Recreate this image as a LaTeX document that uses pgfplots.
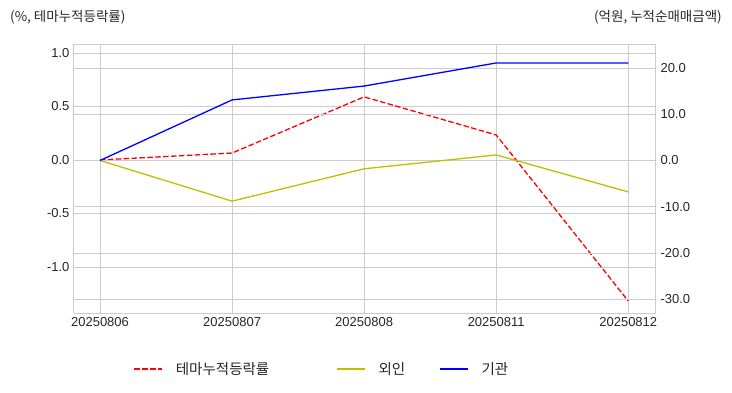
\documentclass[border=0pt]{standalone}
\usepackage{pgfplots}
\pgfplotsset{compat=1.18}
\usepackage{fontspec}
\setmainfont{Liberation Sans}
\newfontfamily\kr{Noto Sans CJK KR}
\definecolor{gridc}{RGB}{204,204,204}
\definecolor{olivey}{RGB}{191,191,0}
\definecolor{txt}{RGB}{38,38,38}
\begin{document}
\begin{tikzpicture}[x=1pt,y=1pt]
\pgfplotsset{
  common/.style={
    at={(74pt,79pt)}, anchor=south west,
    scale only axis, width=582pt, height=269pt,
    xmin=-0.197, xmax=4.21,
    xtick={0,1,2,3,4},
    xticklabels={20250806,20250807,20250808,20250811,20250812},
    major tick length=0pt,
    grid=major, grid style={gridc, line width=0.8pt},
    axis line style={gridc, line width=1pt},
    tick label style={font=\fontsize{13}{15}\selectfont, text=txt},
    /pgf/number format/assume math mode=true,
    /pgf/number format/fixed, /pgf/number format/fixed zerofill,
    /pgf/number format/precision=1,
  }
}
\begin{axis}[common,
  ymin=-1.43, ymax=1.084,
  ytick={-1,-0.5,0,0.5,1},
  axis y line*=left, axis x line*=box,
  yticklabel style={xshift=-1pt},
  xticklabel style={yshift=-1pt},
]
\addplot[red, line width=1.3pt, dash pattern=on 5.5pt off 2.4pt] coordinates {(0,0) (1,0.065) (2,0.59) (3,0.234) (4,-1.318)};
\end{axis}
\begin{axis}[common,
  ymin=-33.0, ymax=25.2,
  ytick={-30,-20,-10,0,10,20},
  axis y line*=right, axis x line=none,
  yticklabel style={xshift=1pt},
  xticklabels={},
  legend style={draw=none, fill=none, at={(0.426,-0.208)}, anchor=center,
    legend columns=3, font=\kr\fontsize{14.5}{16}\selectfont, text=txt,
    /tikz/every odd column/.append style={column sep=11pt},
    /tikz/every even column/.append style={column sep=32pt}},
  legend cell align=left,
  legend image code/.code={\draw[#1] (0pt,0pt) -- (28pt,0pt);},
]
\addlegendimage{red, line width=1.3pt, dash pattern=on 5.5pt off 2.4pt}
\addlegendentry{테마누적등락률\hbox to 33pt{}}
\addplot[olivey, line width=1.3pt] coordinates {(0,0) (1,-8.8) (2,-1.8) (3,1.2) (4,-6.8)};
\addlegendentry{외인}
\addplot[blue, line width=1.3pt] coordinates {(0,0) (1,13.1) (2,16.1) (3,21.1) (4,21.1)};
\addlegendentry{기관}
\end{axis}
\node[anchor=west, text=txt, font=\kr\fontsize{13.5}{15}\selectfont, inner sep=0pt] at (10,375) {(\%, 테마누적등락률)};
\node[anchor=east, text=txt, font=\kr\fontsize{13.5}{15}\selectfont, inner sep=0pt] at (722,375) {(억원, 누적순매매금액)};
\useasboundingbox (0,0) rectangle (732,392);
\end{tikzpicture}
\end{document}
